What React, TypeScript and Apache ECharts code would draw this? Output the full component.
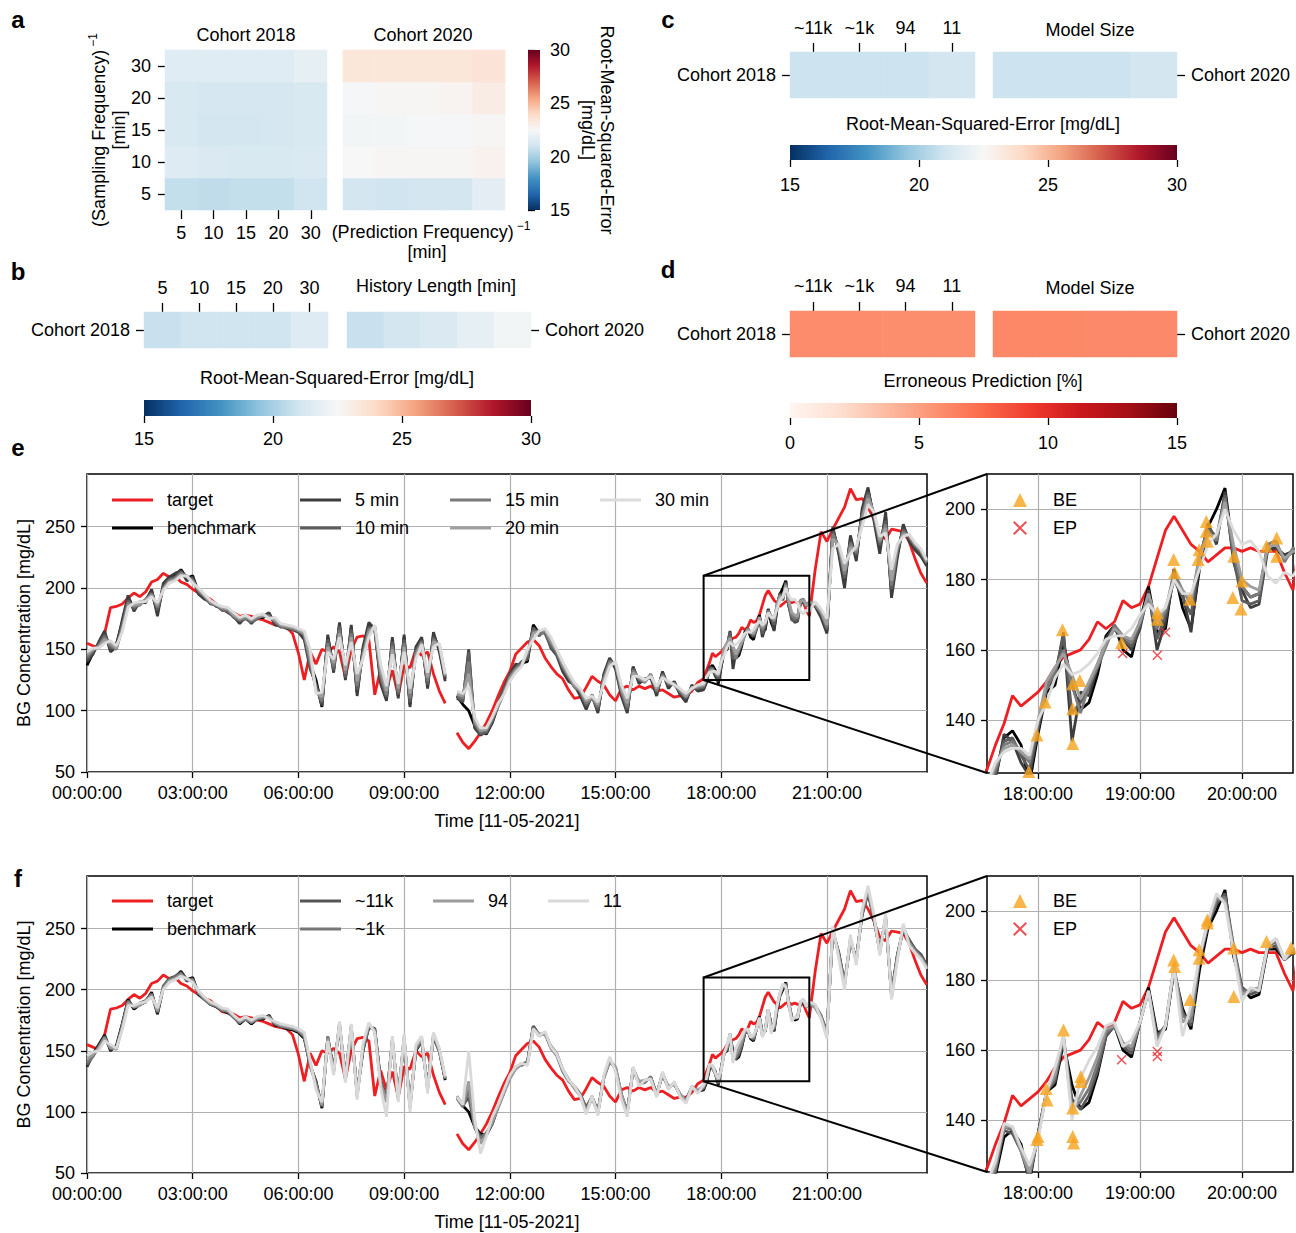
import React, { useEffect, useRef } from "react";
import * as echarts from "echarts";

const FONT = "'Liberation Sans', Arial, Helvetica, sans-serif";
const FS = 18;

// ---------------- heatmap data (RMSE mg/dL, erroneous prediction %) ----------------
const A_COLS = ["5", "10", "15", "20", "30"]; // (prediction frequency)^-1 [min]
const A_ROWS = ["5", "10", "15", "20", "30"]; // (sampling frequency)^-1 [min], bottom -> top
const A_2018 = [
  [20.7, 20.6, 20.7, 20.7, 21.0],
  [21.5, 21.4, 21.3, 21.3, 21.4],
  [21.3, 21.1, 21.1, 21.2, 21.3],
  [21.3, 21.2, 21.2, 21.2, 21.3],
  [21.6, 21.6, 21.6, 21.6, 21.8],
];
const A_2020 = [
  [21.1, 21.0, 21.1, 21.1, 21.7],
  [22.5, 22.6, 22.6, 22.6, 22.8],
  [22.3, 22.3, 22.4, 22.4, 22.6],
  [22.4, 22.6, 22.6, 22.7, 23.1],
  [23.4, 23.4, 23.4, 23.4, 23.5],
];
const B_COLS = ["5", "10", "15", "20", "30"]; // history length [min]
const B_2018 = [20.8, 21.0, 21.0, 21.0, 21.5];
const B_2020 = [20.8, 21.1, 21.4, 21.8, 22.3];
const MODEL_SIZES = ["~11k", "~1k", "94", "11"];
const C_2018 = [20.9, 20.9, 20.9, 21.1];
const C_2020 = [20.9, 20.9, 20.9, 21.1];
const D_2018 = [5.9, 5.9, 5.8, 5.8];
const D_2020 = [6.1, 6.1, 6.0, 6.0];

const RDBU_R = ["#053061", "#2166ac", "#4393c3", "#92c5de", "#d1e5f0", "#f7f7f7", "#fddbc7", "#f4a582", "#d6604d", "#b2182b", "#67001f"];
const REDS = ["#fff5f0", "#fee0d2", "#fcbba1", "#fc9272", "#fb6a4a", "#ef3b2c", "#cb181d", "#a50f15", "#67000d"];

// ---------------- BG time series [mg/dL] ----------------
// samples: 00:00–17:20 every 10 min (105), 17:30–20:30 every 5 min (37), 20:40–23:50 every 10 min (20)
const TARGET = [
  155,153,151,163,184,185,187,192,196,193,
  197,205,207,212,209,210,205,203,199,196,
  193,191,187,182,181,180,177,178,177,175,
  174,172,170,169,168,163,147,125,148,138,
  150,148,152,148,127,150,160,161,158,113,
  134,118,133,112,137,135,150,145,148,130,
  116,106,null,82,74,69,75,82,90,100,
  112,123,132,146,151,156,158,153,143,136,
  130,126,117,110,111,119,128,124,121,113,
  108,118,120,117,120,118,120,116,117,114,
  111,112,112,116,123,
  126,133,139,147,144,146,148,151,155,158,
  159,160,163,168,166,168,174,172,173,178,
  186,194,198,194,190,188,185,187,189,189,
  188,189,188,188,188,182,177,
  215,246,238,248,257,266,281,272,273,266,
  256,243,240,248,247,246,238,224,212,204,
];
const BENCHMARK = [
  137,147,155,163,150,154,172,192,184,188,
  190,198,180,202,208,210,215,208,210,196,
  192,188,186,183,181,178,172,176,172,176,
  176,179,171,170,168,167,165,160,138,125,
  103,160,135,170,128,168,115,150,170,168,
  125,110,158,112,160,105,150,158,120,162,
  150,126,null,112,105,100,88,82,81,90,
  104,116,128,136,139,140,170,163,164,153,
  147,134,126,120,114,103,112,100,128,142,
  136,114,100,135,124,125,128,114,131,120,
  123,114,109,120,117,
  118,124,135,137,133,122,136,148,150,162,
  150,143,145,153,164,167,160,158,168,178,
  165,166,183,172,166,183,195,200,206,187,
  178,175,176,189,189,186,188,
  186,178,165,248,230,205,240,225,262,280,
  258,232,258,196,228,250,240,233,228,219,
];
const PRED_5 = [
  140,146,156,165,148,152,174,194,181,189,
  188,199,177,204,209,212,214,206,209,195,
  191,189,185,184,180,177,171,177,171,177,
  177,180,170,169,167,166,164,158,134,122,
  104,162,131,172,125,170,112,152,172,166,
  122,108,160,110,162,103,152,160,118,164,
  148,124,null,110,107,150,86,80,83,92,
  106,118,130,138,137,145,168,161,166,151,
  145,132,124,121,112,101,113,98,130,143,
  134,112,98,136,122,126,127,112,132,118,
  124,113,107,121,116,
  117,123,136,134,128,124,137,149,152,165,
  134,148,147,155,163,167,163,160,166,177,
  160,168,181,176,165,185,196,190,205,185,
  177,172,173,188,189,187,188,
  185,176,163,250,228,200,243,222,265,282,
  255,228,262,192,225,252,238,231,226,218,
];
const PRED_10 = [
  142,148,154,162,151,151,170,190,183,187,
  190,196,182,201,207,209,213,209,207,197,
  193,187,186,182,181,176,173,175,172,175,
  178,178,172,168,169,166,166,161,136,120,
  106,158,133,169,127,166,117,148,168,167,
  126,111,156,113,158,107,149,157,121,160,
  152,127,null,111,108,148,89,81,82,91,
  105,117,129,135,140,142,167,164,163,152,
  146,135,127,122,115,104,111,101,127,141,
  137,115,101,134,125,124,129,115,130,121,
  122,115,110,119,118,
  119,125,134,135,130,126,138,150,153,164,
  142,145,149,156,162,166,163,161,167,176,
  163,170,180,175,170,186,195,192,204,186,
  174,173,174,189,190,186,188,
  187,179,166,246,232,208,238,227,260,278,
  259,235,255,199,230,248,241,234,229,220,
];
const PRED_15 = [
  144,149,153,160,153,150,168,188,185,186,
  191,195,184,200,206,208,212,210,206,198,
  193,188,187,183,182,177,174,176,173,176,
  177,177,173,169,168,167,165,162,140,118,
  108,155,136,166,130,163,120,146,166,168,
  129,113,153,115,155,110,147,156,124,158,
  153,128,null,113,110,140,90,83,84,93,
  103,115,127,134,138,146,165,162,165,155,
  148,136,128,119,116,106,110,103,126,140,
  138,116,103,133,126,123,130,116,129,122,
  121,116,111,118,119,
  120,126,133,134,131,128,139,149,154,160,
  150,142,150,155,161,167,164,162,168,175,
  166,171,182,177,173,187,194,191,203,188,
  178,175,176,190,191,185,189,
  186,180,168,244,234,211,236,229,258,276,
  260,237,252,202,232,246,242,235,230,221,
];
const PRED_20 = [
  146,150,152,158,155,151,166,186,186,187,
  190,194,186,199,205,207,211,209,205,199,
  194,189,186,184,183,178,175,177,174,177,
  178,176,174,170,169,168,166,163,144,116,
  111,152,139,163,133,160,124,144,164,169,
  133,116,150,118,152,114,145,155,127,156,
  154,129,null,114,112,130,92,84,85,94,
  104,114,126,133,137,148,163,165,166,157,
  149,138,129,121,117,108,111,105,124,138,
  139,118,106,131,127,124,129,118,128,123,
  122,117,112,119,120,
  121,127,132,133,131,129,140,151,155,159,
  153,146,151,156,162,166,164,163,168,176,
  168,172,180,177,174,186,193,192,202,190,
  180,178,177,189,190,186,188,
  188,181,170,240,235,214,233,231,256,273,
  262,239,249,206,234,244,243,236,231,222,
];
const PRED_30 = [
  148,151,151,155,157,153,164,184,188,189,
  189,193,188,198,204,206,210,210,204,200,
  195,190,187,185,184,180,176,178,175,178,
  179,175,176,171,170,169,167,165,150,114,
  115,148,142,160,137,156,130,142,160,170,
  138,120,146,122,148,118,142,154,131,152,
  155,130,null,116,114,120,95,86,86,95,
  106,113,124,131,136,150,158,165,167,160,
  150,140,131,123,118,110,112,107,122,136,
  140,121,110,128,128,125,128,120,127,124,
  121,118,114,118,121,
  122,128,131,132,132,130,140,145,152,156,
  153,154,156,159,163,164,164,166,170,173,
  170,172,180,176,176,183,190,193,200,194,
  190,191,188,181,179,182,181,
  189,183,175,232,236,220,228,234,250,268,
  262,242,245,215,236,242,244,237,232,223,
];
const SIZE_11K = [
  138,146,154,162,151,153,171,191,185,189,
  191,197,181,203,209,211,214,207,209,197,
  193,189,186,184,182,177,173,177,173,177,
  177,178,172,171,169,168,166,161,139,124,
  104,161,134,171,129,169,116,151,169,168,
  126,111,157,113,159,106,151,157,121,161,
  149,127,null,112,105,112,88,80,82,91,
  104,116,128,136,139,141,170,163,164,153,
  147,134,126,120,114,104,112,101,128,141,
  136,114,101,134,124,125,128,115,130,120,
  123,114,110,120,117,
  119,125,137,136,131,123,136,148,151,163,
  146,143,147,154,164,167,161,159,168,177,
  164,167,183,171,167,186,196,202,205,190,
  178,176,177,189,190,186,188,
  186,178,166,247,231,206,239,226,261,279,
  257,233,257,197,229,249,241,233,229,220,
];
const SIZE_1K = [
  140,145,153,161,152,152,170,190,186,188,
  190,196,182,202,208,210,213,208,208,197,
  192,188,187,183,182,178,173,176,173,176,
  177,178,172,170,169,168,166,162,137,123,
  105,162,133,172,127,170,114,152,171,167,
  124,109,159,111,161,104,152,159,119,163,
  151,127,null,111,104,118,87,78,83,90,
  105,117,129,137,138,140,169,162,165,152,
  146,133,125,121,115,102,113,99,129,143,
  135,113,99,136,123,124,129,113,132,119,
  124,113,108,121,116,
  120,126,138,137,131,124,135,148,152,164,
  144,145,149,156,165,167,162,160,168,177,
  163,167,184,170,168,186,196,203,204,189,
  177,177,178,190,191,186,189,
  187,179,164,249,229,204,241,224,263,281,
  259,231,259,195,227,251,239,232,227,219,
];
const SIZE_94 = [
  143,147,152,160,153,151,169,189,186,187,
  191,195,183,201,207,209,212,209,207,198,
  193,189,187,184,183,178,174,177,174,177,
  178,177,173,171,170,169,167,163,140,121,
  106,160,132,173,126,171,112,154,172,166,
  123,108,160,110,162,103,153,160,118,164,
  150,128,null,113,106,125,89,74,81,92,
  103,115,127,135,139,139,168,164,163,154,
  148,135,127,119,113,100,111,99,127,142,
  137,115,99,135,125,126,127,114,131,121,
  122,115,109,119,118,
  121,127,138,138,131,125,135,148,153,164,
  142,147,152,158,166,167,162,161,168,177,
  162,167,184,168,170,187,197,204,203,189,
  176,177,178,190,192,186,189,
  185,177,163,250,228,203,242,223,264,282,
  260,230,260,194,226,252,238,231,226,218,
];
const SIZE_11 = [
  146,149,150,158,155,152,167,187,187,189,
  190,194,185,200,206,208,211,209,206,199,
  194,190,188,185,184,179,175,178,175,178,
  179,176,174,172,171,170,168,165,142,118,
  108,158,130,174,124,172,110,156,173,165,
  120,96,162,108,164,100,155,162,115,165,
  152,129,null,112,106,150,95,66,80,96,
  106,118,130,137,140,138,168,162,166,153,
  147,135,126,121,113,98,113,97,130,145,
  133,110,96,137,121,126,127,112,133,118,
  125,112,107,121,115,
  122,128,139,138,132,127,134,148,155,164,
  140,152,157,161,167,168,161,163,168,177,
  161,167,184,164,173,187,197,205,202,188,
  174,178,177,190,192,186,190,
  188,176,160,252,226,200,245,220,266,285,
  262,228,262,192,224,254,236,230,225,217,
];

// BE / EP markers in the zoomed windows: [time (h), BG mg/dL]
const BE_E = [
  [17.91, 125.4], [17.99, 135.8], [18.07, 145.2], [18.24, 165.7], [18.34, 150.4], [18.34, 143.3],
  [18.34, 133.4], [18.41, 151.3], [18.82, 162.1], [19.17, 170.6], [19.17, 168.7], [19.33, 185.7],
  [19.34, 181.9], [19.49, 174.4], [19.57, 185.7], [19.58, 188.5], [19.65, 196.5], [19.65, 193.7],
  [19.66, 190.9], [19.91, 174.9], [19.92, 186.6], [19.99, 171.6], [20.0, 179.6], [20.24, 189.5],
  [20.34, 191.8], [20.34, 186.6],
];
const EP_E = [[18.83, 159.0], [19.17, 158.5], [19.25, 165.0]];
const BE_F = [
  [17.99, 134.3], [18.0, 135.2], [18.08, 149.0], [18.09, 145.7], [18.25, 165.8], [18.34, 143.4],
  [18.34, 135.2], [18.35, 133.3], [18.42, 152.4], [18.42, 151.0], [19.33, 185.9], [19.34, 184.0],
  [19.49, 174.5], [19.58, 188.8], [19.58, 186.4], [19.66, 197.4], [19.66, 196.5], [19.92, 189.3],
  [19.92, 175.4], [20.24, 191.2], [20.48, 189.3],
];
const EP_F = [[18.82, 157.2], [19.17, 158.2], [19.17, 159.6]];

const MAIN_X_TICKS = [0, 3, 6, 9, 12, 15, 18, 21];
const MAIN_Y_TICKS = [50, 100, 150, 200, 250];
const ZOOM_X = [17.5, 20.5];
const ZOOM_Y = [125, 210];
const INSET_X_TICKS = [18, 19, 20];
const INSET_Y_TICKS = [140, 160, 180, 200];

// ---------------- helpers ----------------
function timeAt(i: number) {
  if (i < 105) return i / 6;
  if (i < 142) return 17.5 + (i - 105) / 12;
  return 20.5 + (i - 141) / 6;
}
const toXY = (arr: (number | null)[]) => arr.map((v, i) => [timeAt(i), v == null ? "-" : v]);
const fmtTime = (v: number) => `${String(Math.round(v)).padStart(2, "0")}:00:00`;

const TXT = { fontSize: FS, fontFamily: FONT, color: "#000" };
const TICK = { color: "#000", width: 1.3 };
const GRIDLINE = { color: "#b0b0b0", width: 1.2, type: "solid" as const };

const G: Record<string, { left: number; top: number; width: number; height: number }> = {
  a18: { left: 165, top: 50, width: 162, height: 160 },
  a20: { left: 343, top: 50, width: 162, height: 160 },
  aCb: { left: 528, top: 50, width: 12, height: 160 },
  b18: { left: 144, top: 312, width: 184, height: 36 },
  b20: { left: 347, top: 312, width: 184, height: 36 },
  bCb: { left: 144, top: 400, width: 387, height: 16 },
  c18: { left: 790, top: 52, width: 185, height: 46 },
  c20: { left: 993, top: 52, width: 184, height: 46 },
  cCb: { left: 790, top: 145, width: 387, height: 15 },
  d18: { left: 790, top: 311, width: 185, height: 46 },
  d20: { left: 993, top: 311, width: 184, height: 46 },
  dCb: { left: 790, top: 403, width: 387, height: 15 },
  eMain: { left: 87, top: 474, width: 840, height: 298 },
  eIns: { left: 987, top: 474, width: 306, height: 299 },
  fMain: { left: 87, top: 876, width: 840, height: 297 },
  fIns: { left: 987, top: 876, width: 306, height: 296 },
};
const ORDER = ["a18", "a20", "aCb", "b18", "b20", "bCb", "c18", "c20", "cCb", "d18", "d20", "dCb", "eMain", "eIns", "fMain", "fIns"];
const gi = (k: string) => ORDER.indexOf(k);

const catAxis = (k: string, data: string[], position: string, show: boolean, margin = 14, tick = 8) =>
  show
    ? {
        type: "category", gridIndex: gi(k), data, position,
        axisLine: { show: false },
        axisTick: { show: true, alignWithLabel: true, length: tick, lineStyle: TICK },
        axisLabel: { ...TXT, margin, interval: 0 },
        splitLine: { show: false },
      }
    : { type: "category", gridIndex: gi(k), data, show: false };

const cbAxis = (k: string, min: number, max: number, position: string, margin: number) => ({
  type: "value", gridIndex: gi(k), min, max, interval: 5, position,
  axisLine: { show: false },
  axisTick: { show: true, length: 7, lineStyle: TICK },
  axisLabel: { ...TXT, margin },
  splitLine: { show: false },
});
const hiddenVal = (k: string) => ({ type: "value", gridIndex: gi(k), min: 0, max: 1, show: false });

const timeX = (k: string, main: boolean) => ({
  type: "value", gridIndex: gi(k),
  min: main ? 0 : ZOOM_X[0], max: main ? 23.84 : ZOOM_X[1],
  ...(main ? { interval: 3 } : {}),
  axisLine: { show: false },
  axisTick: { show: true, length: 6, lineStyle: TICK, customValues: main ? MAIN_X_TICKS : INSET_X_TICKS },
  axisLabel: { ...TXT, margin: 12, customValues: main ? MAIN_X_TICKS : INSET_X_TICKS, formatter: fmtTime },
  splitLine: { show: main, lineStyle: GRIDLINE },
  name: main ? "Time [11-05-2021]" : "",
  nameLocation: "middle", nameGap: 40, nameTextStyle: TXT,
});
const bgY = (k: string, main: boolean) => ({
  type: "value", gridIndex: gi(k),
  min: main ? 50 : ZOOM_Y[0], max: main ? 293 : ZOOM_Y[1],
  ...(main ? { interval: 50 } : {}),
  axisLine: { show: false },
  axisTick: { show: true, length: 6, lineStyle: TICK, customValues: main ? MAIN_Y_TICKS : INSET_Y_TICKS },
  axisLabel: { ...TXT, margin: 12, customValues: main ? MAIN_Y_TICKS : INSET_Y_TICKS },
  splitLine: { show: main, lineStyle: GRIDLINE },
  name: main ? "BG Concentration [mg/dL]" : "",
  nameLocation: "middle", nameGap: 54, nameTextStyle: TXT,
});

const heat = (k: string, rows: number[][]) => ({
  type: "heatmap", xAxisIndex: gi(k), yAxisIndex: gi(k),
  data: rows.flatMap((r, ri) => r.map((v, ci) => [ci, ri, v])),
  itemStyle: { borderWidth: 0 }, silent: true, emphasis: { disabled: true },
});
const line = (k: string, name: string, data: (number | null)[], color: string) => ({
  type: "line", name, xAxisIndex: gi(k), yAxisIndex: gi(k), data: toXY(data),
  symbol: "none", showSymbol: false, lineStyle: { color, width: 2.8 }, itemStyle: { color },
  silent: true, emphasis: { disabled: true }, z: 2,
});
const CROSS = "path://M1,0 L5,4 L9,0 L10,1 L6,5 L10,9 L9,10 L5,6 L1,10 L0,9 L4,5 L0,1 Z";
const markers = (k: string, be: number[][], ep: number[][]) => [
  { type: "scatter", name: "BE", xAxisIndex: gi(k), yAxisIndex: gi(k), data: be, symbol: "triangle", symbolSize: 13, itemStyle: { color: "#f6a21d" }, z: 4, silent: true },
  { type: "scatter", name: "EP", xAxisIndex: gi(k), yAxisIndex: gi(k), data: ep, symbol: CROSS, symbolSize: 10, itemStyle: { color: "#e8242a" }, z: 4, silent: true },
];
const insetGrid = (k: string) => ({
  type: "line", name: "", xAxisIndex: gi(k), yAxisIndex: gi(k), data: [], silent: true, z: 1,
  markLine: {
    silent: true, z: 1, symbol: ["none", "none"], label: { show: false }, lineStyle: GRIDLINE,
    emphasis: { disabled: true },
    data: [...INSET_X_TICKS.map((v) => ({ xAxis: v })), ...INSET_Y_TICKS.map((v) => ({ yAxis: v }))],
  },
});

const RED = "#ee1f22";
const E_SERIES: [string, (number | null)[], string][] = [
  ["target", TARGET, RED], ["benchmark", BENCHMARK, "#000000"], ["5 min", PRED_5, "#3d3d3d"],
  ["10 min", PRED_10, "#5c5c5c"], ["15 min", PRED_15, "#7b7b7b"], ["20 min", PRED_20, "#9f9f9f"], ["30 min", PRED_30, "#dcdcdc"],
];
const F_SERIES: [string, (number | null)[], string][] = [
  ["target", TARGET, RED], ["benchmark", BENCHMARK, "#000000"], ["~11k", SIZE_11K, "#555555"],
  ["~1k", SIZE_1K, "#777777"], ["94", SIZE_94, "#9c9c9c"], ["11", SIZE_11, "#d9d9d9"],
];

const RICH = {
  m: { fontSize: FS, fontFamily: FONT, fill: "#000" },
  s: { fontSize: 12, fontFamily: FONT, fill: "#000", padding: [0, 0, 12, 3] },
};
const T = (id: string, x: number, y: number, text: string, o: any = {}) => ({
  type: "text", id, x, y, rotation: o.rotation || 0, silent: true, z: 10,
  style: {
    text, fontSize: o.fontSize || FS, fontFamily: FONT, fontWeight: o.bold ? "bold" : "normal", fill: "#000",
    align: o.align || "center", verticalAlign: "middle", ...(o.rich ? { rich: RICH } : {}),
  },
});
const stops = (cols: string[]) => cols.map((c, i) => ({ offset: i / (cols.length - 1), color: c }));
const cbRect = (id: string, k: string, cols: string[], vertical: boolean) => ({
  type: "rect", id, silent: true, z: 5,
  shape: { x: G[k].left, y: G[k].top, width: G[k].width, height: G[k].height },
  style: { fill: { type: "linear", x: 0, y: vertical ? 1 : 0, x2: vertical ? 0 : 1, y2: 0, colorStops: stops(cols) } },
});

const STATIC_GRAPHICS = [
  T("la", 18, 19, "a", { bold: true, fontSize: 24 }),
  T("lb", 18, 271, "b", { bold: true, fontSize: 24 }),
  T("lc", 668, 19, "c", { bold: true, fontSize: 24 }),
  T("ld", 668, 269, "d", { bold: true, fontSize: 24 }),
  T("le", 18, 447, "e", { bold: true, fontSize: 24 }),
  T("lf", 18, 878, "f", { bold: true, fontSize: 24 }),
  T("a1", 246, 35, "Cohort 2018"),
  T("a2", 423, 35, "Cohort 2020"),
  T("a3", 99, 130, "{m|(Sampling Frequency)}{s|−1}", { rotation: Math.PI / 2, rich: true }),
  T("a4", 119, 130, "[min]", { rotation: Math.PI / 2 }),
  T("a5", 431, 232, "{m|(Prediction Frequency)}{s|−1}", { rich: true }),
  T("a6", 427, 252, "[min]"),
  T("a7", 607, 130, "Root-Mean-Squared-Error", { rotation: -Math.PI / 2 }),
  T("a8", 588, 130, "[mg/dL]", { rotation: -Math.PI / 2 }),
  T("b1", 436, 286, "History Length [min]"),
  T("b2", 337, 378, "Root-Mean-Squared-Error [mg/dL]"),
  T("c1", 1090, 30, "Model Size"),
  T("c2", 983, 124, "Root-Mean-Squared-Error [mg/dL]"),
  T("d1", 1090, 288, "Model Size"),
  T("d2", 983, 381, "Erroneous Prediction [%]"),
  cbRect("cba", "aCb", RDBU_R, true),
  cbRect("cbb", "bCb", RDBU_R, false),
  cbRect("cbc", "cCb", RDBU_R, false),
  cbRect("cbd", "dCb", REDS, false),
];

function buildOption() {
  const grid = ORDER.map((k) => ({
    ...G[k], containLabel: false,
    show: k === "eMain" || k === "eIns" || k === "fMain" || k === "fIns",
    borderColor: "#000", borderWidth: 1.5, backgroundColor: "transparent",
  }));
  const xAxis = [
    catAxis("a18", A_COLS, "bottom", true, 14, 9),
    catAxis("a20", A_COLS, "bottom", false),
    hiddenVal("aCb"),
    catAxis("b18", B_COLS, "top", true, 15, 9),
    catAxis("b20", B_COLS, "top", false),
    cbAxis("bCb", 15, 30, "bottom", 14),
    catAxis("c18", MODEL_SIZES, "top", true, 15, 9),
    catAxis("c20", MODEL_SIZES, "top", false),
    cbAxis("cCb", 15, 30, "bottom", 16),
    catAxis("d18", MODEL_SIZES, "top", true, 16, 9),
    catAxis("d20", MODEL_SIZES, "top", false),
    cbAxis("dCb", 0, 15, "bottom", 16),
    timeX("eMain", true), timeX("eIns", false), timeX("fMain", true), timeX("fIns", false),
  ];
  const yAxis = [
    catAxis("a18", A_ROWS, "left", true, 14, 7),
    catAxis("a20", A_ROWS, "left", false),
    cbAxis("aCb", 15, 30, "right", 10),
    catAxis("b18", ["Cohort 2018"], "left", true, 14, 8),
    catAxis("b20", ["Cohort 2020"], "right", true, 14, 8),
    hiddenVal("bCb"),
    catAxis("c18", ["Cohort 2018"], "left", true, 14, 8),
    catAxis("c20", ["Cohort 2020"], "right", true, 14, 8),
    hiddenVal("cCb"),
    catAxis("d18", ["Cohort 2018"], "left", true, 14, 8),
    catAxis("d20", ["Cohort 2020"], "right", true, 14, 8),
    hiddenVal("dCb"),
    bgY("eMain", true), bgY("eIns", false), bgY("fMain", true), bgY("fIns", false),
  ];
  const series: any[] = [
    heat("a18", A_2018), heat("a20", A_2020),
    heat("b18", [B_2018]), heat("b20", [B_2020]),
    heat("c18", [C_2018]), heat("c20", [C_2020]),
    heat("d18", [D_2018]), heat("d20", [D_2020]),
    ...E_SERIES.map(([n, d, c]) => line("eMain", n, d, c)),
    insetGrid("eIns"),
    ...E_SERIES.map(([n, d, c]) => line("eIns", n, d, c)),
    ...markers("eIns", BE_E, EP_E),
    ...F_SERIES.map(([n, d, c]) => line("fMain", n, d, c)),
    insetGrid("fIns"),
    ...F_SERIES.map(([n, d, c]) => line("fIns", n, d, c)),
    ...markers("fIns", BE_F, EP_F),
  ];
  const lg = { orient: "vertical", padding: 0, itemGap: 10, itemWidth: 41, itemHeight: 3, icon: "rect", selectedMode: false, textStyle: { ...TXT, padding: [0, 0, 0, 9] } };
  const mk = { orient: "vertical", padding: 0, itemGap: 10, itemWidth: 14, itemHeight: 14, selectedMode: false, textStyle: { ...TXT, padding: [0, 0, 0, 21] } };
  const legend = [
    { ...lg, left: 112, top: 491, data: ["target", "benchmark"] },
    { ...lg, left: 300, top: 491, data: ["5 min", "10 min"] },
    { ...lg, left: 450, top: 491, data: ["15 min", "20 min"] },
    { ...lg, left: 600, top: 491, data: ["30 min"] },
    { ...mk, left: 1013, top: 491, data: ["BE", "EP"] },
    { ...lg, left: 112, top: 892, data: ["target", "benchmark"] },
    { ...lg, left: 300, top: 892, data: ["~11k", "~1k"] },
    { ...lg, left: 433, top: 892, data: ["94"] },
    { ...lg, left: 548, top: 892, data: ["11"] },
    { ...mk, left: 1013, top: 892, data: ["BE", "EP"] },
  ];
  return {
    animation: false,
    backgroundColor: "#ffffff",
    textStyle: { fontFamily: FONT },
    grid, xAxis, yAxis, series, legend,
    visualMap: [
      { type: "continuous", show: false, min: 15, max: 30, seriesIndex: [0, 1, 2, 3, 4, 5], inRange: { color: RDBU_R } },
      { type: "continuous", show: false, min: 0, max: 15, seriesIndex: [6, 7], inRange: { color: REDS } },
    ],
    graphic: { elements: STATIC_GRAPHICS },
  };
}

function zoomGraphics(chart: any, mainKey: string, insKey: string) {
  const tl = chart.convertToPixel({ gridIndex: gi(mainKey) }, [ZOOM_X[0], ZOOM_Y[1]]);
  const br = chart.convertToPixel({ gridIndex: gi(mainKey) }, [ZOOM_X[1], ZOOM_Y[0]]);
  const itl = chart.convertToPixel({ gridIndex: gi(insKey) }, [ZOOM_X[0], ZOOM_Y[1]]);
  const ibl = chart.convertToPixel({ gridIndex: gi(insKey) }, [ZOOM_X[0], ZOOM_Y[0]]);
  const st = { stroke: "#000", lineWidth: 2 };
  return [
    { type: "rect", id: mainKey + "box", z: 20, silent: true, shape: { x: tl[0], y: tl[1], width: br[0] - tl[0], height: br[1] - tl[1] }, style: { ...st, fill: "rgba(0,0,0,0)" } },
    { type: "line", id: mainKey + "l1", z: 20, silent: true, shape: { x1: tl[0], y1: tl[1], x2: itl[0], y2: itl[1] }, style: st },
    { type: "line", id: mainKey + "l2", z: 20, silent: true, shape: { x1: tl[0], y1: br[1], x2: ibl[0], y2: ibl[1] }, style: st },
  ];
}

export default function App() {
  const ref = useRef<HTMLDivElement>(null);
  useEffect(() => {
    if (!ref.current) return;
    const chart = echarts.init(ref.current, undefined, { renderer: "svg", width: 1296, height: 1233 });
    chart.setOption(buildOption() as any);
    const extra = [...zoomGraphics(chart, "eMain", "eIns"), ...zoomGraphics(chart, "fMain", "fIns")];
    chart.setOption({ graphic: { elements: [...STATIC_GRAPHICS, ...extra] } } as any);
    return () => chart.dispose();
  }, []);
  return <div ref={ref} style={{ position: "absolute", left: 0, top: 0, width: 1296, height: 1233, background: "#fff" }} />;
}
